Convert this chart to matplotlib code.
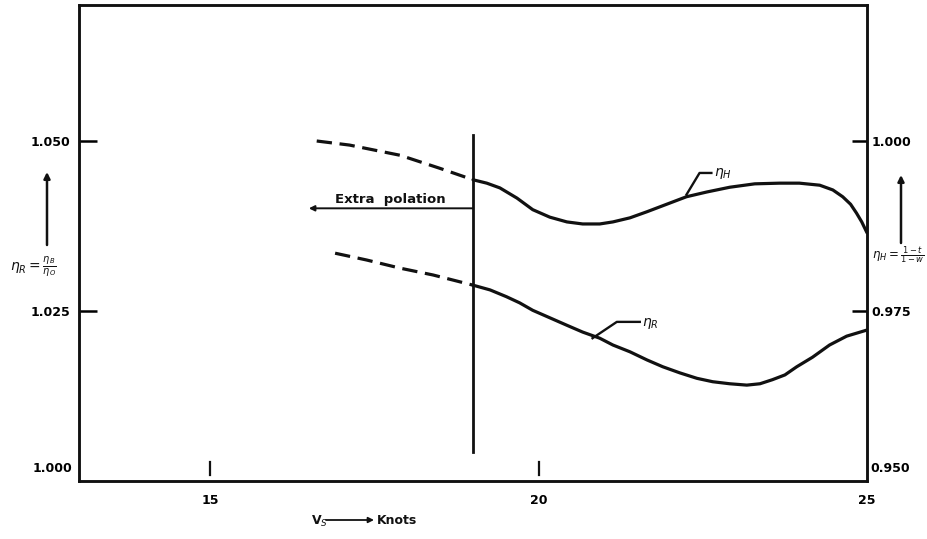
import matplotlib.pyplot as plt

plt.rcParams['font.family'] = ['Liberation Sans Narrow', 'DejaVu Sans']
plt.rcParams['mathtext.fontset'] = 'dejavusans'

# Ship speed (knots) and efficiencies
speed_h_extrap = [16.62, 17.12, 17.89, 18.49, 19.00]
eta_h_extrap = [1.0000, 0.9994, 0.9979, 0.9960, 0.9943]
speed_h = [19.00, 19.21, 19.41, 19.67, 19.91, 20.17, 20.43, 20.67, 20.93,
           21.13, 21.39, 21.65, 21.95, 22.25, 22.56, 22.91, 23.29, 23.67,
           23.97, 24.28, 24.48, 24.63, 24.75, 24.84, 24.92, 25.00]
eta_h = [0.9943, 0.9938, 0.9931, 0.9916, 0.9899, 0.9888, 0.9881, 0.9878,
         0.9878, 0.9881, 0.9887, 0.9896, 0.9907, 0.9918, 0.9925, 0.9932,
         0.9937, 0.9938, 0.9938, 0.9935, 0.9928, 0.9918, 0.9907, 0.9894,
         0.9881, 0.9865]

speed_r_extrap = [16.90, 17.38, 17.89, 18.39, 19.00]
eta_r_extrap = [1.0335, 1.0325, 1.0313, 1.0303, 1.0288]
speed_r = [19.00, 19.26, 19.51, 19.71, 19.91, 20.17, 20.43, 20.67, 20.93,
           21.13, 21.39, 21.65, 21.89, 22.15, 22.41, 22.65, 22.91, 23.17,
           23.37, 23.56, 23.75, 23.93, 24.17, 24.43, 24.69, 25.00]
eta_r = [1.0288, 1.0281, 1.0271, 1.0262, 1.0251, 1.0240, 1.0229, 1.0219,
         1.0210, 1.0200, 1.0190, 1.0178, 1.0168, 1.0159, 1.0151, 1.0146,
         1.0143, 1.0141, 1.0143, 1.0149, 1.0156, 1.0168, 1.0182, 1.0200,
         1.0213, 1.0222]

x_ticks = [15, 20, 25]
left_ticks = [1.000, 1.025, 1.050]
right_ticks = [0.950, 0.975, 1.000]
limit_speed = 19.0

W, H = 928, 539
fig = plt.figure(figsize=(W / 100, H / 100), dpi=100)
ax = fig.add_axes([79 / W, 1 - 481 / H, (867 - 79) / W, (481 - 5) / H])
ax2 = ax.twinx()

ax.set_xlim(13, 25)
ax.set_ylim(1.000, 1.070)
ax2.set_ylim(0.950, 1.020)

lw = 2.3
ink = '#111111'
style = dict(color=ink, lw=lw, solid_joinstyle='round', solid_capstyle='round')
ax.plot(speed_r_extrap, eta_r_extrap, color=ink, lw=lw, dashes=(4.8, 2.4))
ax.plot(speed_r, eta_r, **style)
ax2.plot(speed_h_extrap, eta_h_extrap, color=ink, lw=lw, dashes=(4.8, 2.4))
ax2.plot(speed_h, eta_h, **style)

# limit of measured range and extrapolation arrow
ax.plot([limit_speed, limit_speed], [1.0043, 1.0509], color=ink, lw=2.0)
ax.annotate('', xy=(16.5, 1.0401), xytext=(limit_speed, 1.0401),
            arrowprops=dict(arrowstyle='-|>', color=ink, lw=1.4,
                            mutation_scale=8, shrinkA=0, shrinkB=0))
ax.text(16.9, 1.0405, 'Extra  polation', fontsize=9.5, fontweight='bold',
        ha='left', va='bottom', color=ink)

# curve labels with leaders
ax.plot([20.82, 21.19, 21.54], [1.0210, 1.0234, 1.0234], color=ink, lw=1.7)
ax.text(21.58, 1.0232, r'$\eta_R$', fontsize=10, ha='left', va='center', color=ink)
ax2.plot([22.25, 22.45, 22.63], [0.9921, 0.9953, 0.9953], color=ink, lw=1.7)
ax2.text(22.67, 0.9952, r'$\eta_H$', fontsize=10, ha='left', va='center', color=ink)

# frame
for a in (ax, ax2):
    for s in a.spines.values():
        s.set_linewidth(1.8)
        s.set_color(ink)

# ticks
ax.set_xticks(x_ticks)
ax.set_xticklabels([str(v) for v in x_ticks], fontsize=9, fontweight='bold')
ax.tick_params(axis='x', length=0, pad=9)
xt = ax.get_xaxis_transform()
for v in x_ticks[:-1]:
    ax.plot([v, v], [0.012, 0.04], transform=xt, color=ink, lw=1.6)

ax.set_yticks(left_ticks[1:])
ax.set_yticklabels(['%.3f' % v for v in left_ticks[1:]], fontsize=9,
                   fontweight='bold')
ax.tick_params(axis='y', direction='in', length=13, width=1.8, pad=6)
ax.text(-0.008, 0.012, '%.3f' % left_ticks[0], transform=ax.transAxes,
        ha='right', va='bottom', fontsize=9, fontweight='bold')

ax2.set_yticks(right_ticks[1:])
ax2.set_yticklabels(['%.3f' % v for v in right_ticks[1:]], fontsize=9,
                    fontweight='bold')
ax2.tick_params(axis='y', direction='in', length=11, width=1.8, pad=3)
ax2.text(1.004, 0.012, '%.3f' % right_ticks[0], transform=ax2.transAxes,
         ha='left', va='bottom', fontsize=9, fontweight='bold')

# axis titles
ff = 'figure fraction'
fig.text(10 / W, 1 - 267 / H, r'$\eta_R=\frac{\eta_B}{\eta_O}$', fontsize=10,
         ha='left', va='center', color=ink)
ax.annotate('', xy=(47 / W, 1 - 172 / H), xytext=(47 / W, 1 - 245 / H),
            xycoords=ff, textcoords=ff,
            arrowprops=dict(arrowstyle='-|>', color=ink, lw=1.8,
                            mutation_scale=9, shrinkA=0, shrinkB=0))
fig.text(872 / W, 1 - 255 / H, r'$\eta_H=\frac{1-t}{1-w}$', fontsize=8.5,
         ha='left', va='center', color=ink)
ax.annotate('', xy=(901 / W, 1 - 175 / H), xytext=(901 / W, 1 - 243 / H),
            xycoords=ff, textcoords=ff,
            arrowprops=dict(arrowstyle='-|>', color=ink, lw=1.8,
                            mutation_scale=9, shrinkA=0, shrinkB=0))

fig.text(311 / W, 1 - 521 / H, r'V$_S$', fontsize=9, fontweight='bold',
         ha='left', va='center', color=ink)
ax.annotate('', xy=(374 / W, 1 - 520 / H), xytext=(326 / W, 1 - 520 / H),
            xycoords=ff, textcoords=ff,
            arrowprops=dict(arrowstyle='-|>', color=ink, lw=1.3,
                            mutation_scale=8, shrinkA=0, shrinkB=0))
fig.text(377 / W, 1 - 520 / H, 'Knots', fontsize=9, fontweight='bold',
         ha='left', va='center', color=ink)

fig.savefig('out.png', dpi=100)
